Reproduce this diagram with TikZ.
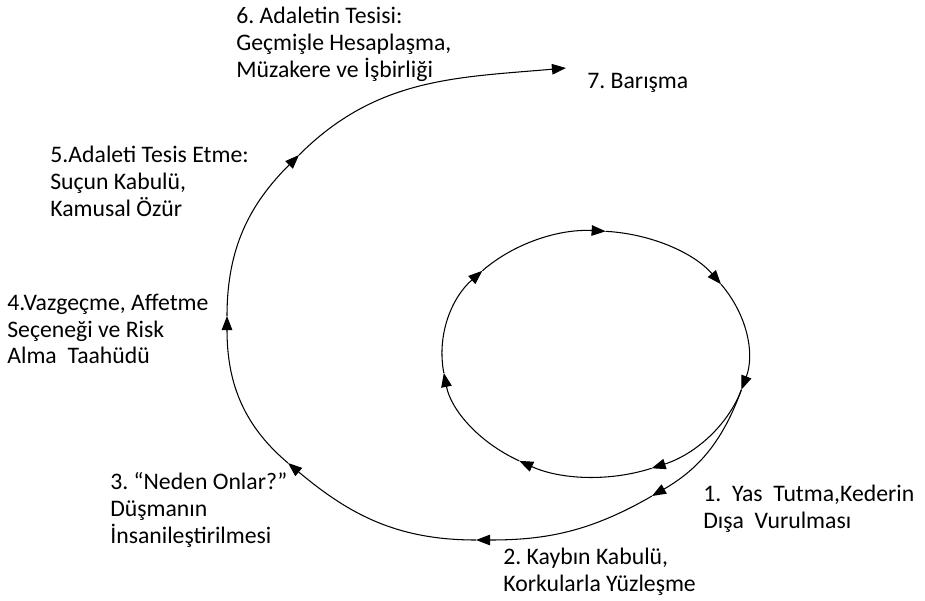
\documentclass[tikz,border=0pt]{standalone}
\usepackage{fontspec}
\setmainfont{Carlito}
\usetikzlibrary{arrows.meta}

\begin{document}
\frenchspacing
\begin{tikzpicture}[x=0.02cm,y=0.02cm,
	yol/.style={line width=0.6pt},
	oklu/.style={yol,-{Triangle[length=8pt,width=6pt]}},
	etiket/.style={anchor=west,align=left,inner sep=0pt,font=\fontsize{13.5pt}{15.3pt}\selectfont}]
	\useasboundingbox (0,0) rectangle (925,600);

%define coordinates
			\coordinate (eMerkez) at (595,246);
			\foreach \i in {0,...,6}
				\coordinate (e\i) at ({595+153*cos(86-\i*360/7)},{246+123*sin(86-\i*360/7)});
			\coordinate (sBir) at ({595+153*cos(-17)},{246+123*sin(-17)});
			\coordinate (sIki) at (652,104);
			\coordinate (sUc) at (476,60);
			\coordinate (sDort) at (288,137);
			\coordinate (sBes) at (227,284);
			\coordinate (sAlti) at (299,445);
			\coordinate (sYedi) at (566,532);

%draw inner circle
			\foreach \i in {0,...,6}
				\draw[oklu] (e\i) arc[start angle={86-\i*360/7}, end angle={86-(\i+1)*360/7}, x radius=153, y radius=123];

%draw spiral
			\draw[oklu] (sBir) to[out=250,in=30] (sIki);
			\draw[oklu] (sIki) to[out=210,in=0] (sUc);
			\draw[oklu] (sUc) to[out=180,in=320] (sDort);
			\draw[oklu] (sDort) to[out=140,in=270] (sBes);
			\draw[oklu] (sBes) to[out=90,in=225] (sAlti);
			\draw[oklu] (sAlti) to[out=45,in=185] (sYedi);

%draw labels
			\node[etiket] (asama1) at (703,91) {1.\ \ Yas\ \ Tutma,Kederin\\Dışa\ \ Vurulması};
			\node[etiket] (asama2) at (503,28) {2. Kaybın Kabulü,\\Korkularla Yüzleşme};
			\node[etiket] (asama3) at (110,90) {3. “Neden Onlar?”\\Düşmanın\\İnsanileştirilmesi};
			\node[etiket] (asama4) at (7,271) {4.Vazgeçme, Affetme\\Seçeneği ve Risk\\Alma\ \ Taahüdü};
			\node[etiket] (asama5) at (50,419) {5.Adaleti Tesis Etme:\\Suçun Kabulü,\\Kamusal Özür};
			\node[etiket] (asama6) at (236,556) {6. Adaletin Tesisi:\\Geçmişle Hesaplaşma,\\Müzakere ve İşbirliği};
			\node[etiket] (asama7) at (587,517) {7. Barışma};

		\end{tikzpicture}
\end{document}
